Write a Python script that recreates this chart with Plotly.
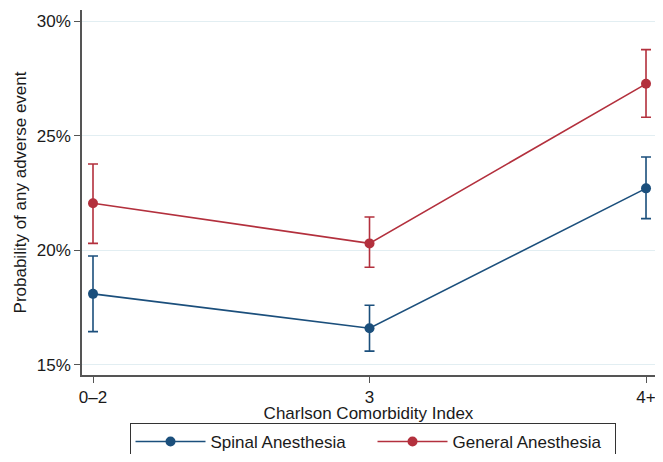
import plotly.graph_objects as go

categories = ["0–2", "3", "4+"]
spinal = [18.1, 16.6, 22.7]
spinal_hi = [19.75, 17.6, 24.07]
spinal_lo = [16.45, 15.6, 21.38]
general = [22.05, 20.3, 27.26]
general_hi = [23.76, 21.45, 28.75]
general_lo = [20.3, 19.26, 25.8]
y_ticks = [15, 20, 25, 30]
y_ticklabels = ["15%", "20%", "25%", "30%"]

BLUE = "#1b4f7c"
RED = "#b3303d"
xpos = list(range(len(categories)))

def trace(name, vals, hi, lo, color):
    return go.Scatter(
        x=xpos, y=vals, name=name, mode="lines+markers",
        line=dict(color=color, width=1.6),
        marker=dict(color=color, size=10),
        error_y=dict(type="data", symmetric=False,
                     array=[h - v for h, v in zip(hi, vals)],
                     arrayminus=[v - l for v, l in zip(vals, lo)],
                     color=color, thickness=1.6, width=5),
    )

fig = go.Figure([
    trace("Spinal Anesthesia", spinal, spinal_hi, spinal_lo, BLUE),
    trace("General Anesthesia", general, general_hi, general_lo, RED),
])

font = dict(family="Liberation Sans, Arial, sans-serif", size=17, color="#1a1a1a")
fig.update_layout(
    width=647, height=446,
    margin=dict(l=74, r=0, t=2, b=79),
    paper_bgcolor="white", plot_bgcolor="white",
    font=font,
    showlegend=True,
    legend=dict(orientation="h", x=0.507, xanchor="center",
                yref="container", y=0.0695, yanchor="top",
                bordercolor="#333", borderwidth=1, font=dict(size=17, color="#1a1a1a"),
                itemwidth=70, entrywidth=157, traceorder="normal"),
    xaxis=dict(range=[-0.0398, 2.0325], tickvals=xpos, ticktext=categories,
               showgrid=False, zeroline=False, showline=True, linecolor="#555", linewidth=1.5,
               ticks="outside", ticklen=6, tickcolor="#555", automargin=False,
               ticklabeloverflow="allow",
               title=dict(text="Charlson Comorbidity Index", font=dict(size=17), standoff=3)),
    yaxis=dict(range=[14.56, 30.48], tickvals=y_ticks, ticktext=y_ticklabels,
               showgrid=True, gridcolor="#e2eef2", gridwidth=1.2, zeroline=False,
               showline=True, linecolor="#555", linewidth=1.5,
               ticks="outside", ticklen=6, tickcolor="#555", automargin=False,
               title=dict(text="Probability of any adverse event", font=dict(size=17), standoff=6)),
)

fig.write_html("out.html")
